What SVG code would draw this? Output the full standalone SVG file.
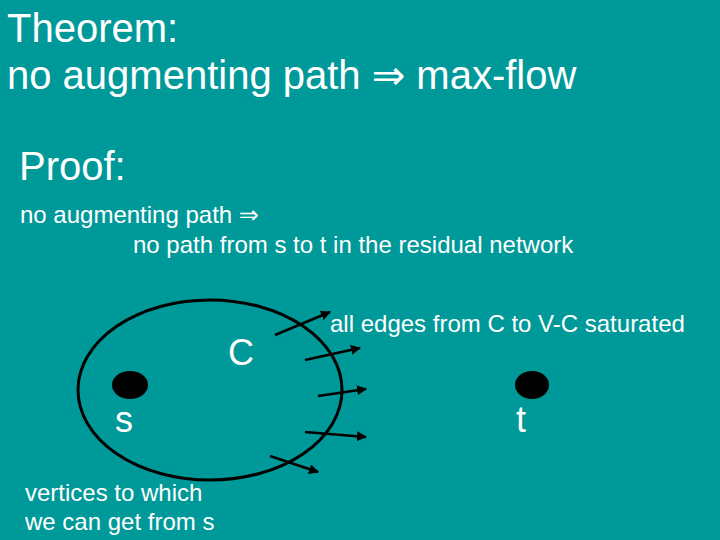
<svg xmlns="http://www.w3.org/2000/svg" width="720" height="540" viewBox="0 0 720 540">
<style>
text{font-family:"Liberation Sans",Arial,"DejaVu Sans",sans-serif;fill:#ffffff}
.big{font-size:40px}
.mid{font-size:40px}
.sm{font-size:24px}
.lbl{font-size:36px}
.edge{stroke:#000;stroke-width:2.5;fill:none;marker-end:url(#ah)}
</style>
<defs>
<marker id="ah" viewBox="0 0 10 10" refX="9" refY="5" markerWidth="4" markerHeight="4" orient="auto" markerUnits="strokeWidth">
<path d="M0,0 L10,5 L0,10 z" fill="#000"/>
</marker>
</defs>
<rect width="720" height="540" fill="#009999"/>
<text class="big" x="7" y="42">Theorem:</text>
<text class="big" x="7" y="89">no augmenting path ⇒ max-flow</text>
<text class="mid" x="19" y="180">Proof:</text>
<text class="sm" x="20" y="223">no augmenting path ⇒</text>
<text class="sm" x="133" y="253">no path from s to t in the residual network</text>
<g id="cut">
<ellipse cx="210" cy="390" rx="132" ry="90" fill="none" stroke="#000" stroke-width="3"/>
<text class="lbl" x="228" y="365">C</text>
</g>
<g id="s">
<ellipse cx="130" cy="385" rx="18" ry="14" fill="#000"/>
<text class="lbl" x="115" y="432">s</text>
</g>
<g id="t">
<ellipse cx="532" cy="385" rx="17" ry="14" fill="#000"/>
<text class="lbl" x="516" y="432">t</text>
</g>
<g id="connectors">
<line class="edge" x1="275" y1="335" x2="330" y2="312"/>
<line class="edge" x1="305" y1="360" x2="360" y2="348"/>
<line class="edge" x1="318" y1="396" x2="366" y2="389"/>
<line class="edge" x1="305" y1="432" x2="366" y2="437"/>
<line class="edge" x1="270" y1="456" x2="318" y2="472"/>
</g>
<text class="sm" x="330" y="332">all edges from C to V-C saturated</text>
<text class="sm" x="25" y="501">vertices to which</text>
<text class="sm" x="25" y="530">we can get from s</text>
</svg>
